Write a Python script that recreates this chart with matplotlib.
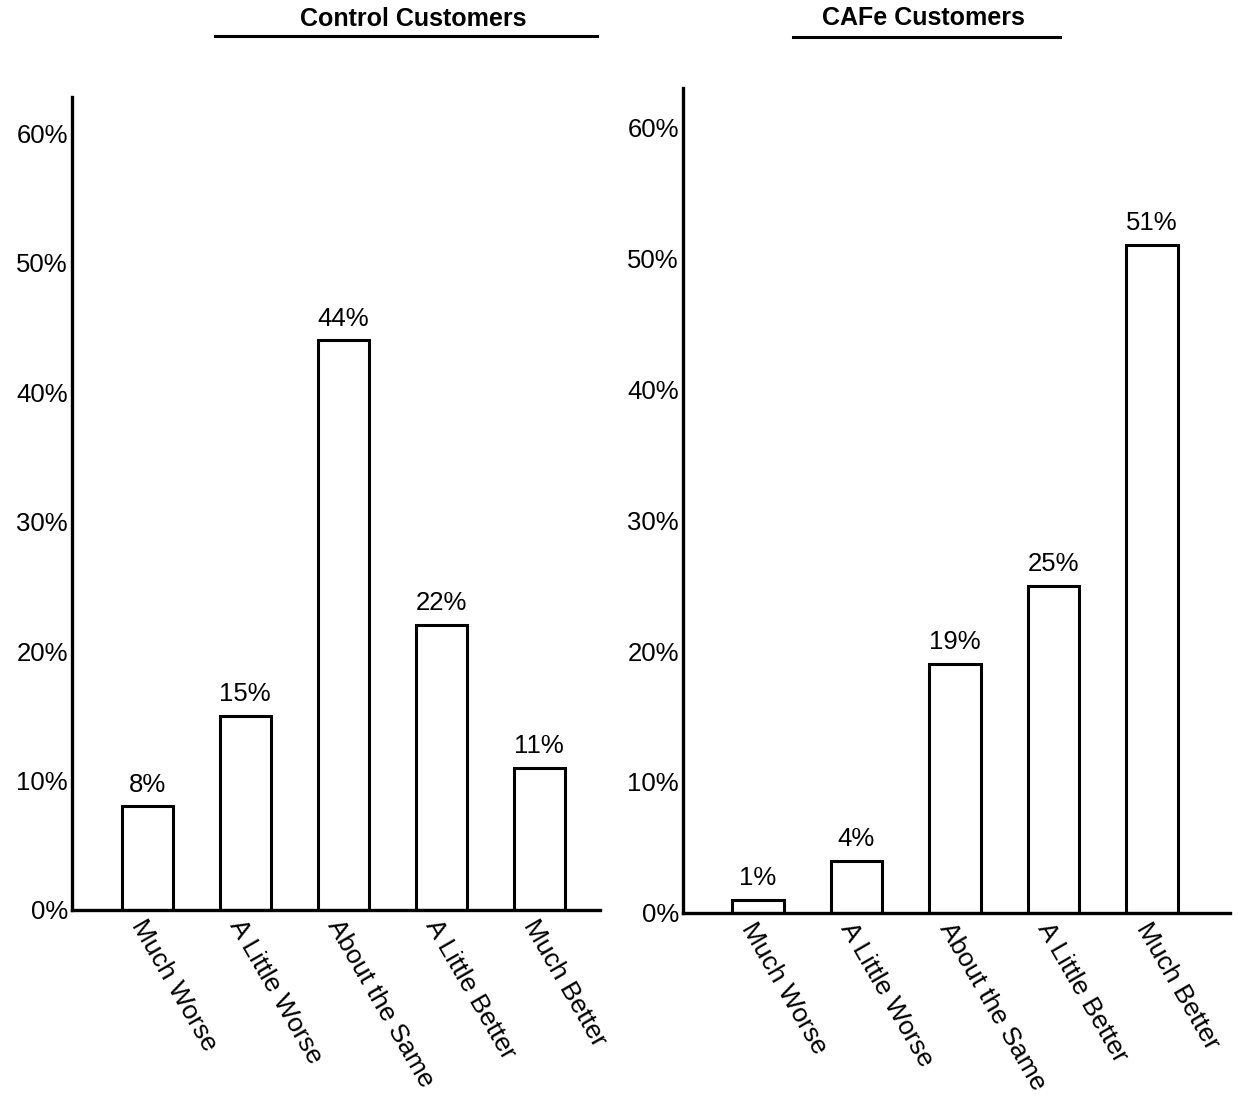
import matplotlib.pyplot as plt
from matplotlib.lines import Line2D

plt.rcParams['font.family'] = ['Liberation Sans', 'DejaVu Sans']

# Survey responses: change in customer situation
categories = ["Much Worse", "A Little Worse", "About the Same",
              "A Little Better", "Much Better"]
control_pct = [8, 15, 44, 22, 11]
cafe_pct = [1, 4, 19, 25, 51]
tick_vals = [0, 10, 20, 30, 40, 50, 60]
tick_labels = [f"{v}%" for v in tick_vals]

fig = plt.figure(figsize=(12.38, 11.03), dpi=100)
fig.patch.set_facecolor('white')

ax1 = fig.add_axes([0.0582, 0.175, 0.4265, 0.737])
ax2 = fig.add_axes([0.5517, 0.1723, 0.4418, 0.748])


def draw_panel(ax, values, xlim, ytop):
    x = list(range(len(values)))
    ax.bar(x, values, width=0.52, facecolor='white', edgecolor='black',
           linewidth=2.2, zorder=3)
    for xi, v in zip(x, values):
        ax.annotate(f"{v}%", (xi, v), xytext=(0, 7), textcoords='offset points',
                    ha='center', va='bottom', fontsize=18.5)
    ax.set_xlim(*xlim)
    ax.set_ylim(0, ytop)
    ax.set_yticks(tick_vals)
    ax.set_yticklabels(tick_labels, fontsize=18.5)
    ax.set_xticks(x)
    ax.set_xticklabels(categories, rotation=-60, ha='left', va='top',
                       rotation_mode='anchor', fontsize=19)
    ax.tick_params(axis='both', length=0)
    ax.tick_params(axis='y', pad=3)
    ax.tick_params(axis='x', pad=4)
    for side in ['top', 'right']:
        ax.spines[side].set_visible(False)
    for side in ['left', 'bottom']:
        ax.spines[side].set_linewidth(2.4)
        ax.spines[side].set_zorder(4)


draw_panel(ax1, control_pct, (-0.765, 4.62), 62.8)
draw_panel(ax2, cafe_pct, (-0.76, 4.79), 63.0)

# Panel headings with rules underneath
fig.text(413 / 1238, 1 - 19 / 1103, "Control Customers", ha='center',
         va='center', fontsize=18, fontweight='bold')
fig.text(923 / 1238, 1 - 18 / 1103, "CAFe Customers", ha='center',
         va='center', fontsize=18, fontweight='bold')
fig.add_artist(Line2D([215 / 1238, 597 / 1238], [1 - 36 / 1103] * 2,
                      color='black', linewidth=2.2))
fig.add_artist(Line2D([793 / 1238, 1060 / 1238], [1 - 37 / 1103] * 2,
                      color='black', linewidth=2.2))

plt.savefig('out.png', dpi=100, facecolor='white')
plt.close()
